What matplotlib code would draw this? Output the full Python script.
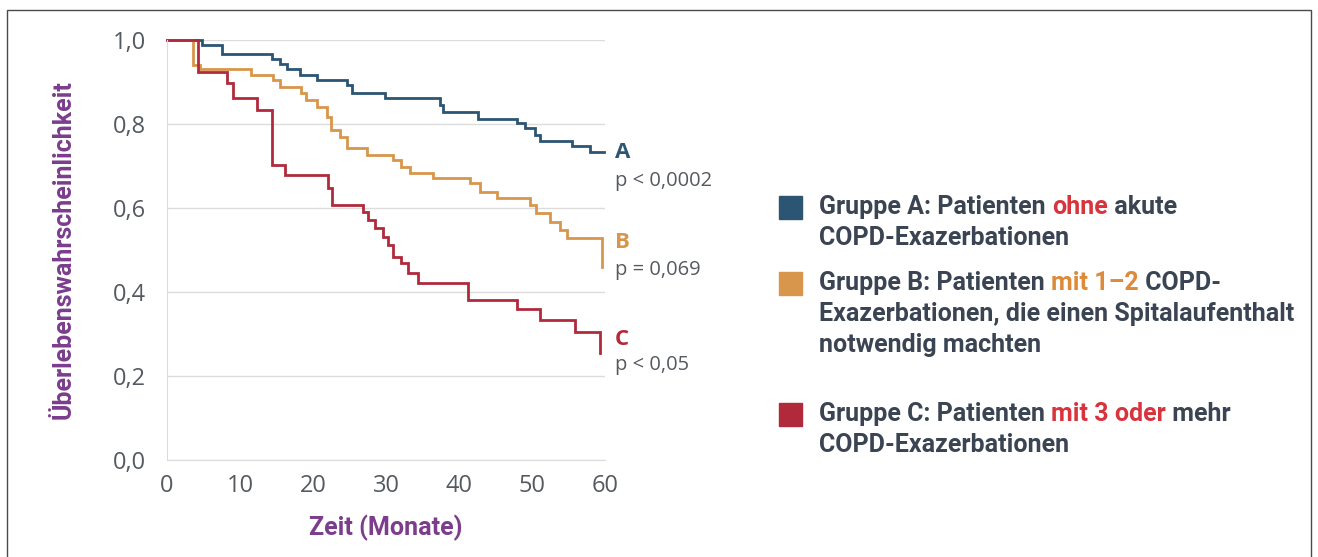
import matplotlib
matplotlib.use("Agg")
import matplotlib.pyplot as plt
from matplotlib.patches import Rectangle

# survival steps (time in months, survival after the step)
months_a = [0, 4.8, 7.5, 14.4, 15.5, 16.5, 18.2, 20.5, 24.6, 25.3, 29.9, 37.4, 37.8,
            42.6, 47.9, 49.0, 50.4, 51.1, 55.5, 58.0, 59.8]
surv_a = [1.0, 0.988, 0.967, 0.955, 0.943, 0.931, 0.917, 0.905, 0.893, 0.874, 0.862, 0.845,
          0.829, 0.812, 0.802, 0.79, 0.774, 0.76, 0.748, 0.733, 0.733]

months_b = [0, 3.6, 4.5, 11.5, 14.5, 15.5, 18.4, 19.0, 20.5, 21.9, 22.5, 23.7, 24.6, 27.4,
            31.0, 32.0, 33.3, 36.4, 41.5, 42.9, 45.2, 49.7, 50.5, 52.5, 53.8, 54.8, 59.6]
surv_b = [1.0, 0.94, 0.93, 0.917, 0.905, 0.889, 0.874, 0.857, 0.84, 0.817, 0.786, 0.77, 0.743,
          0.726, 0.714, 0.698, 0.683, 0.671, 0.66, 0.638, 0.624, 0.607, 0.588, 0.567, 0.548,
          0.529, 0.46]

months_c = [0, 4.3, 8.2, 9.1, 12.3, 14.4, 16.2, 22.0, 22.6, 26.9, 27.6, 28.5, 29.6, 30.3,
            31.0, 32.0, 33.0, 34.4, 41.2, 47.9, 51.1, 55.9, 59.3]
surv_c = [1.0, 0.924, 0.897, 0.862, 0.833, 0.702, 0.679, 0.648, 0.607, 0.59, 0.571, 0.552,
          0.531, 0.512, 0.483, 0.469, 0.445, 0.421, 0.381, 0.36, 0.333, 0.305, 0.255]

group_letters = ["A", "B", "C"]
p_values = ["p < 0,0002", "p = 0,069", "p < 0,05"]
x_ticks = [0, 10, 20, 30, 40, 50, 60]
y_ticks = [0.0, 0.2, 0.4, 0.6, 0.8, 1.0]

legend_lines = [
    [[("Gruppe A: Patienten ", "text"), ("ohne", "red"), (" akute", "text")],
     [("COPD-Exazerbationen", "text")]],
    [[("Gruppe B: Patienten ", "text"), ("mit 1\u20132", "orange"), (" COPD-", "text")],
     [("Exazerbationen, die einen Spitalaufenthalt", "text")],
     [("notwendig machten", "text")]],
    [[("Gruppe C: Patienten ", "text"), ("mit 3 oder", "red"), (" mehr", "text")],
     [("COPD-Exazerbationen", "text")]],
]

BLUE = "#2c5573"
ORANGE = "#d8954c"
RED = "#b02a3c"
PURPLE = "#7b3d8c"
GRAY = "#555a60"
GRID = "#dcdcdc"
TEXT = "#3a4452"
word_colors = {"text": TEXT, "red": "#d8343e", "orange": "#dd8a3a"}
NARROW = ["Roboto", "DejaVu Sans"]
ROUND = ["Open Sans", "DejaVu Sans"]

W, H = 1318, 557
fig = plt.figure(figsize=(W / 100, H / 100), dpi=100)
fig.patch.set_facecolor("white")

ax = fig.add_axes([167 / W, 1 - 460 / H, (605 - 167) / W, 420 / H])
series = [(months_a, surv_a, BLUE), (months_b, surv_b, ORANGE), (months_c, surv_c, RED)]
for t, s, c in series:
    ax.plot(t, s, drawstyle="steps-post", color=c, lw=2.0, solid_joinstyle="miter",
            clip_on=False)

ax.set_xlim(0, 60)
ax.set_ylim(0, 1.0)
ax.set_xticks(x_ticks)
ax.set_yticks(y_ticks)
ax.set_xticklabels([str(v) for v in x_ticks])
ax.set_yticklabels([f"{v:.1f}".replace(".", ",") for v in y_ticks])
ax.tick_params(axis="both", labelsize=17, labelcolor=GRAY, color=GRID, length=0, pad=15)
ax.tick_params(axis="x", pad=10)
for lab in ax.get_xticklabels() + ax.get_yticklabels():
    lab.set_family(ROUND)
ax.grid(axis="y", color=GRID, lw=1)
ax.set_axisbelow(True)
for side in ["top", "right"]:
    ax.spines[side].set_visible(False)
ax.spines["left"].set_color(GRID)
ax.spines["bottom"].set_color(GRID)

ax.set_ylabel("Überlebenswahrscheinlichkeit", color=PURPLE, fontsize=18,
              fontweight="bold", family=NARROW, labelpad=27)
ax.set_xlabel("Zeit (Monate)", color=PURPLE, fontsize=18, fontweight="bold",
              family=NARROW, labelpad=12)

# group letters and p values next to the curve ends (label positions in data units)
letter_y = [0.733, 0.517, 0.286]
pval_y = [0.664, 0.452, 0.226]
for (t, s, c), letter, pv, ly, py in zip(series, group_letters, p_values, letter_y, pval_y):
    ax.text(61.4, ly, letter, color=c, fontsize=16, fontweight="bold",
            family=ROUND, va="center", ha="left", clip_on=False)
    ax.text(61.4, py, pv, color=GRAY, fontsize=14.5,
            family=ROUND, va="center", ha="left", clip_on=False)

# legend with coloured words
renderer = fig.canvas.get_renderer()
swatches = [BLUE, ORANGE, RED]
block_tops = [207, 283, 414]
line_step = 31
for color, top, lines in zip(swatches, block_tops, legend_lines):
    fig.patches.append(Rectangle((779 / W, 1 - (top + 12) / H), 23 / W, 23 / H,
                                 transform=fig.transFigure, color=color))
    for i, parts in enumerate(lines):
        x = 819
        y = top + i * line_step
        for txt, key in parts:
            tt = fig.text(x / W, 1 - y / H, txt, color=word_colors[key], fontsize=18,
                          fontweight="bold", family=NARROW, va="center", ha="left")
            x += tt.get_window_extent(renderer).width

# thin frame round the picture
fig.patches.append(Rectangle((7 / W, -0.02), (1311 - 7) / W, 1 - 10 / H + 0.02,
                             transform=fig.transFigure, fill=False, ec="#4a4a4a", lw=1))

fig.savefig("out.png", dpi=100, facecolor="white")
